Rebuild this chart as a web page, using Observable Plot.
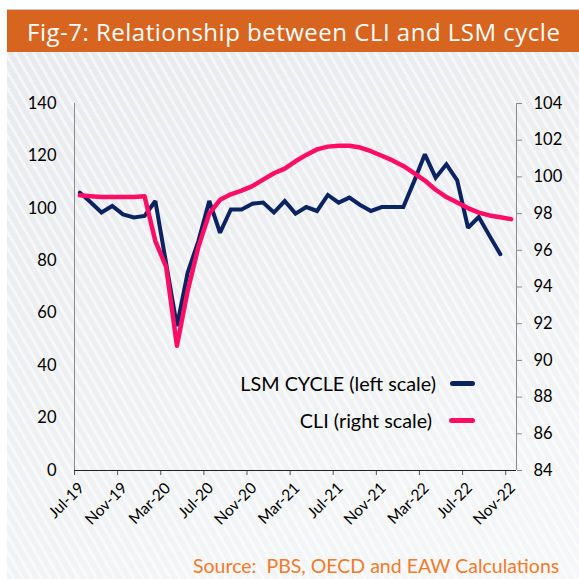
<!DOCTYPE html>
<html>
<head>
<meta charset="utf-8">
<script src="https://cdn.jsdelivr.net/npm/d3@7"></script>
<script src="https://cdn.jsdelivr.net/npm/@observablehq/plot@0.6"></script>
<style>
  html, body { margin: 0; padding: 0; background: #fff; }
  #page { position: relative; width: 579px; height: 579px; overflow: hidden; background: #fff; }
  #panel {
    position: absolute; left: 7px; top: 9px; width: 572px; height: 570px;
    background:
      repeating-linear-gradient(60deg, rgba(255,255,255,0) 0px, rgba(255,255,255,0) 5px, rgba(255,255,255,0.55) 5px, rgba(255,255,255,0.55) 8px),
      linear-gradient(160deg, #e7e9ec 0%, #eef0f2 55%, #f6f7f8 100%);
    border-top: 1px solid #c9c9c9;
  }
  #header {
    position: absolute; left: 7px; top: 10px; width: 572px; height: 42px;
    background: #d7651f; color: #fff;
    font-family: "Open Sans", Roboto, sans-serif; font-size: 24px; letter-spacing: 0.5px;
    line-height: 44px; padding-left: 20px; box-sizing: border-box; white-space: nowrap;
  }
  #chart { position: absolute; left: 0; top: 52px; }
  .leg { position: absolute; font-family: Lato, sans-serif; font-size: 19.8px; color: #000; white-space: nowrap; line-height: 24px; }
  .sw { position: absolute; height: 5px; border-radius: 3px; }
  #source { position: absolute; left: 193px; top: 554px; font-family: Lato, sans-serif; font-size: 19.5px; color: #f07b2c; white-space: nowrap; }
</style>
</head>
<body>
<div id="page">
  <div id="panel"></div>
  <div id="header">Fig-7: Relationship between CLI and LSM cycle</div>
  <div id="chart"></div>
  <div class="leg" id="leg1" style="right:143px; top:371px;">LSM CYCLE (left scale)</div>
  <div class="sw" style="left:450px; width:25px; top:381px; background:#0b2461;"></div>
  <div class="leg" id="leg2" style="right:147px; top:408px;">CLI (right scale)</div>
  <div class="sw" style="left:449px; width:26px; top:418px; background:#fd0d66;"></div>
  <div id="source">Source:&nbsp; PBS, OECD and EAW Calculations</div>
</div>
<script>
// Monthly series, Jul-2019 .. Nov-2022
const startMonth = "2019-07";
const lsmCycle = [106.0, 102.3, 98.4, 100.9, 97.7, 96.5, 97.1, 102.8, 79.0, 55.1,
                  75.5, 87.6, 102.8, 90.7, 99.6, 99.6, 101.8, 102.2, 98.4, 102.8,
                  98.0, 100.5, 99.0, 105.1, 102.2, 104.1, 101.3, 99.0, 100.5, 100.5,
                  100.5, 110.3, 120.6, 111.7, 116.8, 110.7, 92.6, 96.7, 89.5, 82.5];
const cli = [99.0, 98.95, 98.9, 98.9, 98.9, 98.9, 98.95, 96.5, 95.1, 90.8,
             93.8, 96.2, 98.0, 98.75, 99.05, 99.25, 99.5, 99.85, 100.2, 100.45,
             100.85, 101.2, 101.5, 101.65, 101.7, 101.7, 101.6, 101.4, 101.15, 100.9,
             100.6, 100.2, 99.8, 99.3, 98.9, 98.6, 98.3, 98.05, 97.9, 97.8, 97.7];
const monthCount = 41;
const xTickLabels = ["Jul-19","Nov-19","Mar-20","Jul-20","Nov-20","Mar-21","Jul-21","Nov-21","Mar-22","Jul-22","Nov-22"];
const xTickEvery = 4;
const leftTicks = [0, 20, 40, 60, 80, 100, 120, 140];
const rightTicks = [84, 86, 88, 90, 92, 94, 96, 98, 100, 102, 104];

// map right scale (84..104) onto left scale (0..140)
const rMin = 84, rMax = 104, lMax = 140;
const toLeft = v => (v - rMin) * lMax / (rMax - rMin);
const fromLeft = v => v * (rMax - rMin) / lMax + rMin;

const lsmData = lsmCycle.map((v, i) => ({i: i + 0.5, v}));
const cliData = cli.map((v, i) => ({i: i + 0.5, v: toLeft(v)}));
const xTickPos = xTickLabels.map((_, k) => k * xTickEvery);

const chart = Plot.plot({
  width: 579,
  height: 480,
  marginLeft: 74,
  marginRight: 63,
  marginTop: 51,
  marginBottom: 62,
  style: {background: "transparent", fontFamily: "Lato, sans-serif", color: "#000", overflow: "visible"},
  x: {type: "linear", domain: [0, monthCount]},
  y: {domain: [0, lMax]},
  marks: [
    Plot.axisY({ticks: leftTicks, tickSize: 0, tickPadding: 18, label: null, fontSize: 16.5, tickFormat: d => d}),
    Plot.axisY({anchor: "right", ticks: rightTicks.map(toLeft), tickFormat: d => Math.round(fromLeft(d)),
                tickSize: 5, tickPadding: 12, label: null, fontSize: 16.5, stroke: "#8a8a8a"}),
    Plot.axisX({ticks: xTickPos, tickSize: 5, label: null, tickFormat: () => "", stroke: "#555"}),
    Plot.axisX({ticks: xTickPos, tickFormat: (d, k) => xTickLabels[k], tickRotate: -45, tickSize: 0,
                tickPadding: 6, label: null, fontSize: 15.5, dx: 7, dy: 9}),
    Plot.ruleX([0], {stroke: "#8a8a8a", strokeWidth: 1}),
    Plot.ruleX([monthCount], {stroke: "#8a8a8a", strokeWidth: 1}),
    Plot.ruleY([0], {stroke: "#222", strokeWidth: 1.2}),
    Plot.line(lsmData, {x: "i", y: "v", stroke: "#0b2461", strokeWidth: 4, strokeLinejoin: "miter", strokeMiterlimit: 2}),
    Plot.line(cliData, {x: "i", y: "v", stroke: "#fd0d66", strokeWidth: 4.5, strokeLinejoin: "round"})
  ]
});
document.getElementById("chart").appendChild(chart);
</script>
</body>
</html>
